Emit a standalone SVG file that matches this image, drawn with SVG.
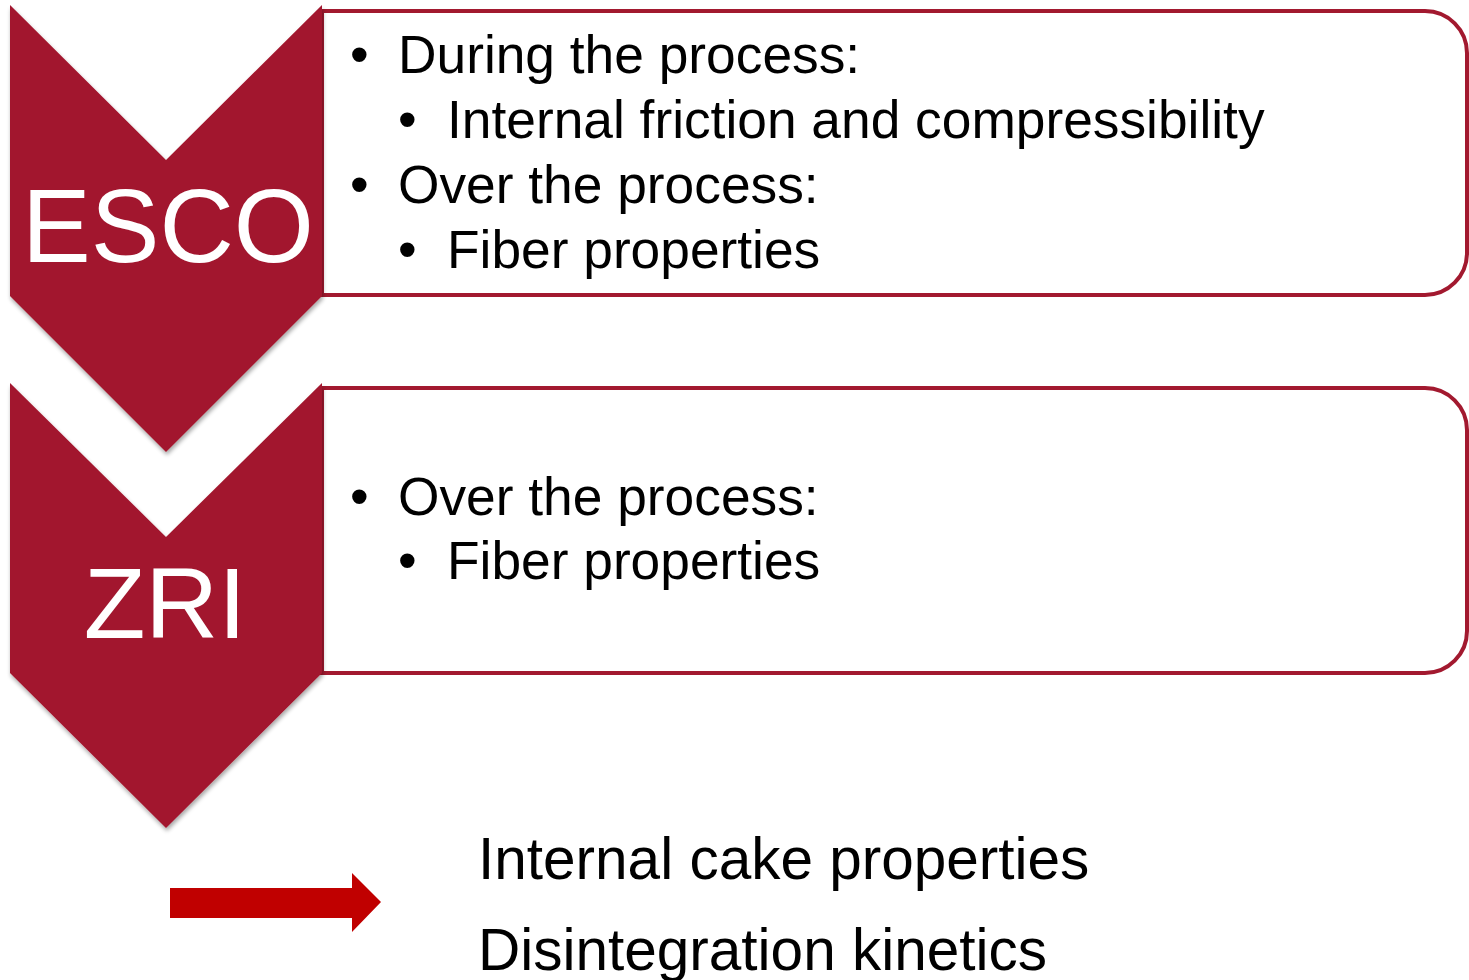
<svg xmlns="http://www.w3.org/2000/svg" width="1469" height="980" viewBox="0 0 1469 980">
  <defs>
    <filter id="shadow" x="-10%" y="-10%" width="130%" height="130%">
      <feGaussianBlur in="SourceAlpha" stdDeviation="2"/>
      <feOffset dx="1" dy="3" result="b"/>
      <feComponentTransfer><feFuncA type="linear" slope="0.35"/></feComponentTransfer>
      <feMerge><feMergeNode/><feMergeNode in="SourceGraphic"/></feMerge>
    </filter>
    <style>
      .box { fill: #ffffff; stroke: #A2192F; stroke-width: 4; }
      .chev { fill: #A2192F; filter: url(#shadow); }
      .tag { font-family: "Liberation Sans", Arial, sans-serif; fill: #ffffff; text-anchor: middle; }
      .txt { font-family: "Liberation Sans", Arial, sans-serif; font-size: 53.3px; fill: #000000; }
      .note { font-family: "Liberation Sans", Arial, sans-serif; font-size: 58.5px; fill: #000000; }
    </style>
  </defs>
  <rect width="1469" height="980" fill="#ffffff"/>

  <!-- ESCO row -->
  <g id="esco-box">
    <path class="box" d="M322,11 H1425 A42,42 0 0 1 1467,53 V253 A42,42 0 0 1 1425,295 H322 Z"/>
    <text class="txt" x="350" y="73">•</text>
    <text class="txt" x="398" y="73">During the process:</text>
    <text class="txt" x="398" y="138">•</text>
    <text class="txt" x="447" y="138">Internal friction and compressibility</text>
    <text class="txt" x="350" y="203">•</text>
    <text class="txt" x="398" y="203">Over the process:</text>
    <text class="txt" x="398" y="268">•</text>
    <text class="txt" x="447" y="268">Fiber properties</text>
  </g>
  <g id="esco-chevron">
    <polygon class="chev" points="10,5 166,160 322,5 322,296 166,452 10,296"/>
    <text class="tag" x="168" y="262" font-size="103">ESCO</text>
  </g>

  <!-- ZRI row -->
  <g id="zri-box">
    <path class="box" d="M322,388 H1425 A42,42 0 0 1 1467,430 V631 A42,42 0 0 1 1425,673 H322 Z"/>
    <text class="txt" x="350" y="515">•</text>
    <text class="txt" x="398" y="515">Over the process:</text>
    <text class="txt" x="398" y="579">•</text>
    <text class="txt" x="447" y="579">Fiber properties</text>
  </g>
  <g id="zri-chevron">
    <polygon class="chev" points="10,383 166,537 322,383 322,673 166,828 10,673"/>
    <text class="tag" x="165" y="638" font-size="101">ZRI</text>
  </g>

  <!-- result arrow -->
  <g id="connectors">
    <polygon fill="#C00000" points="170,888 352,888 352,873 381,902 352,932 352,918 170,918"/>
  </g>

  <g id="results">
    <text class="note" x="478" y="879">Internal cake properties</text>
    <text class="note" x="478" y="970">Disintegration kinetics</text>
  </g>
</svg>
